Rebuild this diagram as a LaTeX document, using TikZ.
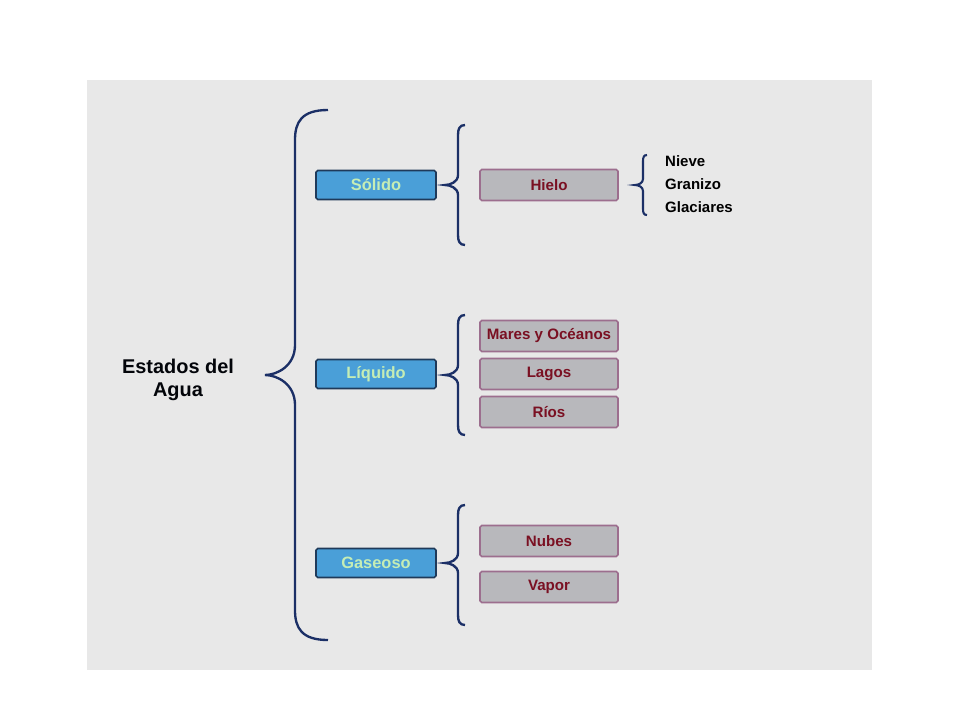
\documentclass[tikz,border=0pt]{standalone}
\usepackage{fontspec}
\setmainfont{Liberation Sans}
\usetikzlibrary{positioning}
\definecolor{panel}{HTML}{E8E8E8}
\definecolor{azul}{HTML}{4A9FD8}
\definecolor{azulborde}{HTML}{1F3A5A}
\definecolor{verdeclaro}{HTML}{C5EDB5}
\definecolor{gris}{HTML}{B8B8BC}
\definecolor{grisborde}{HTML}{9C6E8E}
\definecolor{granate}{HTML}{7A1022}
\definecolor{marino}{HTML}{1B2F66}
\tikzset{
    estado/.style={draw=azulborde, fill=azul, line width=1.4pt, rounded corners=1.5pt,
        minimum width=3.6cm, minimum height=0.87cm, inner sep=0pt,
        text=verdeclaro, font=\fontsize{14}{16}\selectfont\bfseries},
    ejemplo/.style={draw=grisborde, fill=gris, line width=1.4pt, rounded corners=1.5pt,
        minimum width=4.14cm, minimum height=0.93cm, inner sep=0pt,
        text=granate, font=\fontsize{12.9}{15}\selectfont\bfseries},
    llavelinea/.style={draw=marino, line width=2pt},
    lista/.style={anchor=west, inner sep=0pt, font=\fontsize{12.8}{15}\selectfont\bfseries}
}
% brace: #2 stem x, #3 ends x, #4 tip x, #5 top, #6 middle, #7 bottom, #8 curl
\newcommand{\llave}[8][]{%
    \draw[llavelinea,#1] (#3,#5) .. controls ({#2+0.2*(#3-#2)},#5) and (#2,{#5+0.4*#8}) .. (#2,{#5+#8})
        -- (#2,{#6-#8}) .. controls (#2,{#6-0.3*#8}) and ({#4+0.4*(#2-#4)},#6) .. (#4,#6)
        .. controls ({#4+0.4*(#2-#4)},#6) and (#2,{#6+0.3*#8}) .. (#2,{#6+#8})
        -- (#2,{#7-#8}) .. controls (#2,{#7-0.4*#8}) and ({#2+0.2*(#3-#2)},#7) .. (#3,#7);}

\begin{document}
\begin{tikzpicture}[x=0.03cm, y=-0.03cm]
    % page and panel
    \useasboundingbox[fill=white] (0,0) rectangle (960,720);
    \fill[panel] (87,80) rectangle (872,670);
    % title
    \node[align=center, text=black!90!marino, font=\fontsize{17}{20}\selectfont\bfseries]
        (agua) at (178,380) {Estados del\\Agua};
    % main brace
    \llave{295}{328}{265}{110}{375}{640}{30}
    % states
    \node[estado] (solido) at (376,185) {Sólido};
    \node[estado] (liquido) at (376,374) {Líquido};
    \node[estado] (gaseoso) at (376,563) {Gaseoso};
    % solid
    \llave{458}{465}{445}{125}{185}{245}{10}
    \node[ejemplo] (hielo) at (549,185) {Hielo};
    \llave[line width=1.8pt]{643}{647}{635}{155}{185}{215}{6}
    \node[lista] (nieve) at (665,161) {Nieve};
    \node[lista] (granizo) at (665,184) {Granizo};
    \node[lista] (glaciares) at (665,207) {Glaciares};
    % liquid
    \llave{458}{465}{445}{315}{375}{435}{10}
    \node[ejemplo] (mares) at (549,336) {Mares y Océanos};
    \node[ejemplo] (lagos) at (549,374) {Lagos};
    \node[ejemplo] (rios) at (549,412) {Ríos};
    % gas
    \llave{458}{465}{445}{505}{563}{625}{10}
    \node[ejemplo] (nubes) at (549,541) {Nubes};
    \node[ejemplo] (vapor) at (549,587) {Vapor};
\end{tikzpicture}
\end{document}
